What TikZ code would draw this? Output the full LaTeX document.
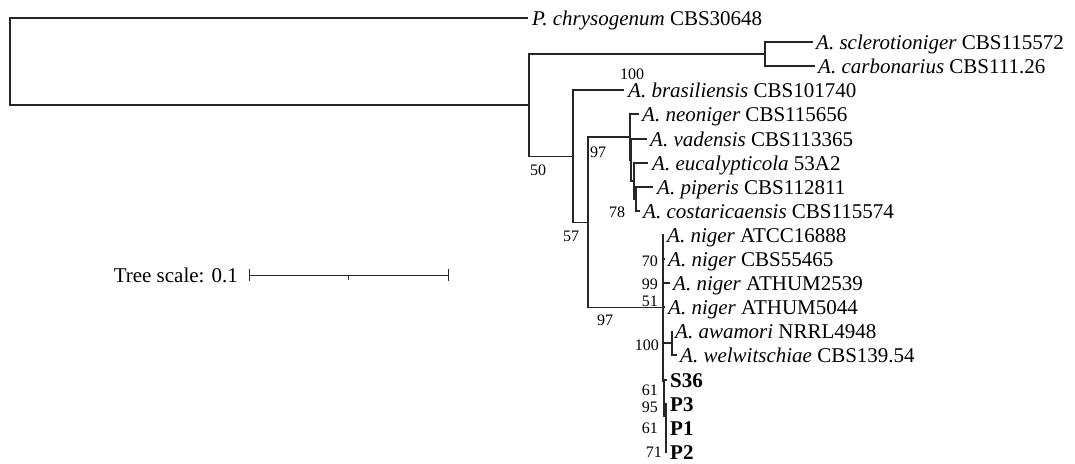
\documentclass[tikz,border=0pt]{standalone}
\usepackage{fontspec}
\setmainfont{Liberation Serif}
\begin{document}
\begin{tikzpicture}[x=1pt,y=-1pt,
  br/.style={line width=1.1pt, draw=black!85},
  leaf/.style={anchor=base west, inner sep=0pt, font=\fontsize{21}{24}\selectfont},
  bs/.style={inner sep=0pt, font=\fontsize{16}{18}\selectfont}]
\useasboundingbox (0,0) rectangle (1075,463);
% internal nodes
\coordinate (root) at (10,61.5);
\coordinate (A) at (529,105);
\coordinate (B) at (765,54);
\coordinate (C) at (573,156.5);
\coordinate (D) at (588,222.5);
\coordinate (E) at (630,137);
\coordinate (X) at (631,160);
\coordinate (Y) at (634,181);
\coordinate (H) at (636,199);
\coordinate (F) at (663,307.5);
\coordinate (AW) at (672,343);
\coordinate (Z) at (664,381);
\coordinate (W) at (666,416);
\coordinate (V) at (666,440);
% tips
\coordinate (t0) at (528,18);
\coordinate (t1) at (813,42);
\coordinate (t2) at (815,66);
\coordinate (t3) at (624,90);
\coordinate (t4) at (639,114);
\coordinate (t5) at (647,139);
\coordinate (t6) at (648,163);
\coordinate (t7) at (653,187);
\coordinate (t8) at (640,211);
\coordinate (t9) at (664,235);
\coordinate (t10) at (665,259);
\coordinate (t11) at (670,283);
\coordinate (t12) at (665,307);
\coordinate (t13) at (672,331);
\coordinate (t14) at (677,355);
\coordinate (t15) at (667,380);
\coordinate (t16) at (667,404);
\coordinate (t17) at (667,428);
\coordinate (t18) at (667,452);
% branches
\draw[br] (root) |- (t0);
\draw[br] (root) |- (A);
\draw[br] (A) |- (B);
\draw[br] (A) |- (C);
\draw[br] (B) |- (t1);
\draw[br] (B) |- (t2);
\draw[br] (C) |- (t3);
\draw[br] (C) |- (D);
\draw[br] (D) |- (E);
\draw[br] (D) |- (F);
\draw[br] (E) |- (t4);
\draw[br] (E) |- (X);
\draw[br] (X) |- (t5);
\draw[br] (X) |- (Y);
\draw[br] (Y) |- (t6);
\draw[br] (Y) |- (H);
\draw[br] (H) |- (t7);
\draw[br] (H) |- (t8);
\draw[br] (F) |- (t9);
\draw[br] (F) |- (t10);
\draw[br] (F) |- (t11);
\draw[br] (F) |- (t12);
\draw[br] (F) |- (AW);
\draw[br] (F) |- (Z);
\draw[br] (AW) |- (t13);
\draw[br] (AW) |- (t14);
\draw[br] (Z) |- (t15);
\draw[br] (Z) |- (W);
\draw[br] (W) |- (t16);
\draw[br] (W) |- (V);
\draw[br] (V) |- (t17);
\draw[br] (V) |- (t18);
% leaf labels
\node[leaf] (n0) at ([xshift=4pt,yshift=-7pt]t0) {\textit{P. chrysogenum} CBS30648};
\node[leaf] (n1) at ([xshift=3pt,yshift=-7pt]t1) {\textit{A. sclerotioniger} CBS115572};
\node[leaf] (n2) at ([xshift=3pt,yshift=-7pt]t2) {\textit{A. carbonarius} CBS111.26};
\node[leaf] (n3) at ([xshift=4pt,yshift=-7pt]t3) {\textit{A. brasiliensis} CBS101740};
\node[leaf] (n4) at ([xshift=3pt,yshift=-7pt]t4) {\textit{A. neoniger} CBS115656};
\node[leaf] (n5) at ([xshift=3pt,yshift=-7pt]t5) {\textit{A. vadensis} CBS113365};
\node[leaf] (n6) at ([xshift=4pt,yshift=-7pt]t6) {\textit{A. eucalypticola} 53A2};
\node[leaf] (n7) at ([xshift=4pt,yshift=-7pt]t7) {\textit{A. piperis} CBS112811};
\node[leaf] (n8) at ([xshift=3pt,yshift=-7pt]t8) {\textit{A. costaricaensis} CBS115574};
\node[leaf] (n9) at ([xshift=3pt,yshift=-7pt]t9) {\textit{A. niger} ATCC16888};
\node[leaf] (n10) at ([xshift=3pt,yshift=-7pt]t10) {\textit{A. niger} CBS55465};
\node[leaf] (n11) at ([xshift=3pt,yshift=-7pt]t11) {\textit{A. niger} ATHUM2539};
\node[leaf] (n12) at ([xshift=3pt,yshift=-7pt]t12) {\textit{A. niger} ATHUM5044};
\node[leaf] (n13) at ([xshift=3pt,yshift=-7pt]t13) {\textit{A. awamori} NRRL4948};
\node[leaf] (n14) at ([xshift=3pt,yshift=-7pt]t14) {\textit{A. welwitschiae} CBS139.54};
\node[leaf] (n15) at ([xshift=3pt,yshift=-7pt]t15) {\textbf{S36}};
\node[leaf] (n16) at ([xshift=3pt,yshift=-7pt]t16) {\textbf{P3}};
\node[leaf] (n17) at ([xshift=3pt,yshift=-7pt]t17) {\textbf{P1}};
\node[leaf] (n18) at ([xshift=3pt,yshift=-7pt]t18) {\textbf{P2}};
% bootstrap values
\node[bs] (b1) at (632,74) {100};
\node[bs] (b2) at (538,170) {50};
\node[bs] (b3) at (598,152) {97};
\node[bs] (b4) at (571,236) {57};
\node[bs] (b5) at (617,212) {78};
\node[bs] (b6) at (605,320) {97};
\node[bs,anchor=east] (b7) at (658,261) {70};
\node[bs,anchor=east] (b8) at (658,284) {99};
\node[bs,anchor=east] (b9) at (658,301) {51};
\node[bs,anchor=east] (b10) at (659,345) {100};
\node[bs,anchor=east] (b11) at (658,390) {61};
\node[bs,anchor=east] (b12) at (658,407) {95};
\node[bs,anchor=east] (b13) at (658,428) {61};
\node[bs,anchor=east] (b14) at (662,452) {71};
% tree scale
\coordinate (s1) at (249,275);
\coordinate (sm) at (348.5,275);
\coordinate (s2) at (448,275);
\node[leaf,anchor=base east] (ts) at ([xshift=-11pt,yshift=-7pt]s1) {Tree scale: 0.1};
\draw[br,line width=1pt] (s1) -- (s2);
\draw[br,line width=1pt] ([yshift=6pt]s1) -- ([yshift=-6pt]s1);
\draw[br,line width=1pt] ([yshift=6pt]s2) -- ([yshift=-6pt]s2);
\draw[br,line width=1pt] (sm) -- ([yshift=-5pt]sm);
\end{tikzpicture}
\end{document}
